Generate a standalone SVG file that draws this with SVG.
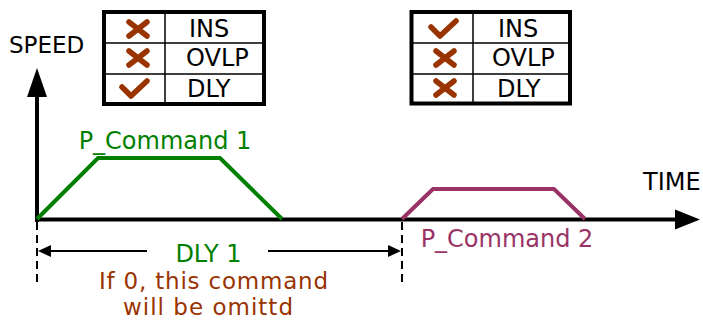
<svg xmlns="http://www.w3.org/2000/svg" width="703" height="321" viewBox="0 0 703 321">
<style>
text{font-family:"DejaVu Sans","Liberation Sans",sans-serif;font-size:24px}
.blk{fill:#000}
.box{fill:#fff;stroke:#000;stroke-width:4}
.grid{stroke:#000;stroke-width:1.5;fill:none}
.mark{stroke:#993300;stroke-width:5.5;stroke-linecap:round;stroke-linejoin:round;fill:none}
.axis{stroke:#000;stroke-width:4;fill:none}
.dash{stroke:#000;stroke-width:2;stroke-dasharray:8 5;fill:none}
.dim{stroke:#000;stroke-width:2;fill:none}
.g{fill:#008000}
.p{fill:#993366}
.br{fill:#993300;font-size:23px}
</style>
<defs>
<symbol id="x" overflow="visible"><path class="mark" d="M-9,-7 L9,7 M9,-7 L-9,7"/></symbol>
<symbol id="v" overflow="visible"><path class="mark" d="M-14,-1 L-5,8 L11,-7"/></symbol>
</defs>

<g id="axes">
<path class="axis" d="M37,222 V95"/>
<polygon class="blk" points="37,68 27,97 47,97"/>
<path class="axis" d="M35,219.5 H678"/>
<polygon class="blk" points="700,219.5 675,209.5 675,229.5"/>
<text x="9" y="53" style="font-size:23px">SPEED</text>
<text x="643" y="190">TIME</text>
</g>

<g id="table1">
<rect class="box" x="104" y="12" width="160" height="92"/>
<path class="grid" d="M104,43 H264 M104,74 H264 M165,12 V104"/>
<use href="#x" x="138" y="29"/>
<use href="#x" x="138" y="58"/>
<use href="#v" x="136" y="88"/>
<text x="189" y="37">INS</text>
<text x="186" y="66">OVLP</text>
<text x="187" y="97">DLY</text>
</g>

<g id="table2">
<rect class="box" x="411.5" y="12" width="158.5" height="91.5"/>
<path class="grid" d="M411.5,43 H570 M411.5,74 H570 M473,12 V103.5"/>
<use href="#v" x="445" y="28"/>
<use href="#x" x="445" y="58"/>
<use href="#x" x="445" y="88"/>
<text x="498" y="37">INS</text>
<text x="492" y="66">OVLP</text>
<text x="497" y="97">DLY</text>
</g>

<g id="command1">
<path d="M37,219 L98,158 L220,158 L282,219" stroke="#008000" stroke-width="4" fill="none"/>
<text class="g" x="165" y="149" text-anchor="middle">P_Command 1</text>
</g>

<g id="command2">
<path d="M402,219 L433,189 L554,189 L585,219" stroke="#993366" stroke-width="4" fill="none"/>
<text class="p" x="507" y="247" text-anchor="middle">P_Command 2</text>
</g>

<g id="connectors">
<path class="dash" d="M37,222 V282"/>
<path class="dash" d="M402,222 V282"/>
<path class="dim" d="M50,251 H147 M268,251 H389"/>
<polygon class="blk" points="38,251 51,245 51,257"/>
<polygon class="blk" points="401,251 388,245 388,257"/>
</g>

<g id="delay-label">
<text class="g" x="208.5" y="262" text-anchor="middle">DLY 1</text>
<text class="br" x="99" y="289" textLength="229" lengthAdjust="spacing">If 0, this command</text>
<text class="br" x="123" y="315" textLength="170" lengthAdjust="spacing">will be omittd</text>
</g>
</svg>
